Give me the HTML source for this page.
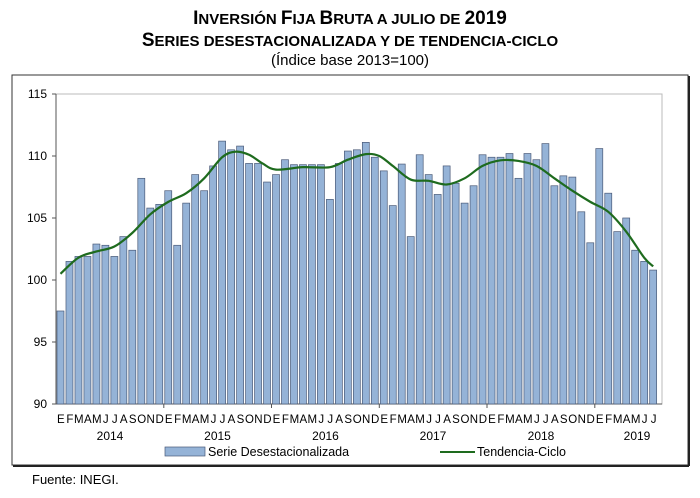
<!DOCTYPE html>
<html><head><meta charset="utf-8"><style>
body{margin:0;background:#fff;width:700px;height:493px;overflow:hidden;font-family:"Liberation Sans",sans-serif}
</style></head><body>
<svg width="700" height="493" xmlns="http://www.w3.org/2000/svg" font-family="Liberation Sans, sans-serif">
<text x="350" y="24" text-anchor="middle" font-weight="bold" font-size="15"><tspan font-size="19">I</tspan>NVERSIÓN <tspan font-size="19">F</tspan>IJA <tspan font-size="19">B</tspan>RUTA A JULIO DE <tspan font-size="19">2019</tspan></text>
<text x="350" y="46" text-anchor="middle" font-weight="bold" font-size="15"><tspan font-size="19">S</tspan>ERIES DESESTACIONALIZADA Y DE TENDENCIA-CICLO</text>
<text x="350" y="65" text-anchor="middle" font-size="15">(Índice base 2013=100)</text>
<rect x="12" y="75" width="676" height="390" fill="none" stroke="#333" stroke-width="1"/>
<line x1="13" y1="466" x2="689" y2="466" stroke="#222" stroke-width="2"/>
<line x1="689" y1="76" x2="689" y2="466" stroke="#222" stroke-width="2"/>
<rect x="56" y="94" width="606" height="310" fill="none" stroke="#bbb"/>
<g stroke="#555"><line x1="56" y1="94" x2="56" y2="404"/><line x1="56" y1="404" x2="662" y2="404"/>
<line x1="52" y1="94" x2="56" y2="94"/><line x1="52" y1="156" x2="56" y2="156"/><line x1="52" y1="218" x2="56" y2="218"/><line x1="52" y1="280" x2="56" y2="280"/><line x1="52" y1="342" x2="56" y2="342"/><line x1="52" y1="404" x2="56" y2="404"/>
<line x1="163.8" y1="404" x2="163.8" y2="408"/><line x1="271.5" y1="404" x2="271.5" y2="408"/><line x1="379.3" y1="404" x2="379.3" y2="408"/><line x1="487" y1="404" x2="487" y2="408"/><line x1="594.8" y1="404" x2="594.8" y2="408"/></g>
<g font-size="12" text-anchor="end"><text x="47" y="98">115</text><text x="47" y="160">110</text><text x="47" y="222">105</text><text x="47" y="284">100</text><text x="47" y="346">95</text><text x="47" y="408">90</text></g>
<g id="bars" fill="#95b3d7" stroke="#4a5a78" stroke-width="0.7"></g>
<path id="trend" fill="none" stroke="#1e6b1e" stroke-width="2.2"/>
<text id="months" y="423" font-size="11.5" letter-spacing="-0.8"></text>
<g font-size="12" text-anchor="middle"><text x="110" y="440">2014</text><text x="217.5" y="440">2015</text><text x="325.5" y="440">2016</text><text x="433" y="440">2017</text><text x="541" y="440">2018</text><text x="637" y="440">2019</text></g>
<rect x="165" y="447" width="40" height="9" fill="#95b3d7" stroke="#4a5a78" stroke-width="0.7"/>
<text x="208" y="456" font-size="12.5">Serie Desestacionalizada</text>
<line x1="440" y1="452" x2="475" y2="452" stroke="#1e6b1e" stroke-width="2"/>
<text x="477" y="456" font-size="12.5">Tendencia-Ciclo</text>
<text x="32" y="484" font-size="13">Fuente: INEGI.</text>
</svg>
<script>
var v=[97.5,101.5,101.9,101.9,102.9,102.8,101.9,103.5,102.4,108.2,105.8,106.1,
107.2,102.8,106.2,108.5,107.2,109.2,111.2,110.5,110.8,109.4,109.4,107.9,
108.5,109.7,109.3,109.3,109.3,109.3,106.5,109.4,110.4,110.5,111.1,109.9,
108.8,106.0,109.35,103.5,110.1,108.5,106.9,109.2,107.8,106.2,107.6,110.1,
109.9,109.9,110.2,108.2,110.2,109.7,111.0,107.6,108.4,108.3,105.5,103.0,
110.6,107.0,103.9,105.0,102.4,101.5,100.8];
var ns="http://www.w3.org/2000/svg",g=document.getElementById("bars"),w=8.98;
function Y(x){return 404-(x-90)*12.4}
for(var i=0;i<v.length;i++){var r=document.createElementNS(ns,"rect");var x=56+w*i+1;r.setAttribute("x",x);r.setAttribute("width",w-2);r.setAttribute("y",Y(v[i]));r.setAttribute("height",404-Y(v[i]));g.appendChild(r);}
var t=[[0,100.5],[2,101.8],[4,102.3],[6,102.7],[8,103.8],[10,105.3],[12,106.3],[14,107.0],[16,108.2],[18,109.9],[19.5,110.35],[21,110.1],[22.5,109.4],[24,108.9],[27,109.1],[30,109.1],[32,109.7],[34,110.15],[35.5,110.0],[37,109.2],[39,108.1],[41,108.0],[43,107.7],[45,108.2],[47,109.2],[49,109.65],[51,109.6],[53,109.2],[55,108.2],[57,107.2],[59,106.3],[61,105.5],[63,103.9],[65,101.8],[66,101.1]];
var P=t.map(function(p){return[56+w*(p[0]+0.5),Y(p[1])]});
var d="M"+P[0][0]+","+P[0][1];
for(var i=0;i<P.length-1;i++){var p0=P[i-1]||P[i],p1=P[i],p2=P[i+1],p3=P[i+2]||p2;
d+=" C"+(p1[0]+(p2[0]-p0[0])/6)+","+(p1[1]+(p2[1]-p0[1])/6)+" "+(p2[0]-(p3[0]-p1[0])/6)+","+(p2[1]-(p3[1]-p1[1])/6)+" "+p2[0]+","+p2[1];}
document.getElementById("trend").setAttribute("d",d);
var L="EFMAMJJASOND",m=document.getElementById("months");
for(var i=0;i<67;i++){var s=document.createElementNS(ns,"tspan");s.setAttribute("x",56+w*(i+0.5));s.setAttribute("text-anchor","middle");s.textContent=L[i%12];m.appendChild(s);}
</script>
</body></html>
